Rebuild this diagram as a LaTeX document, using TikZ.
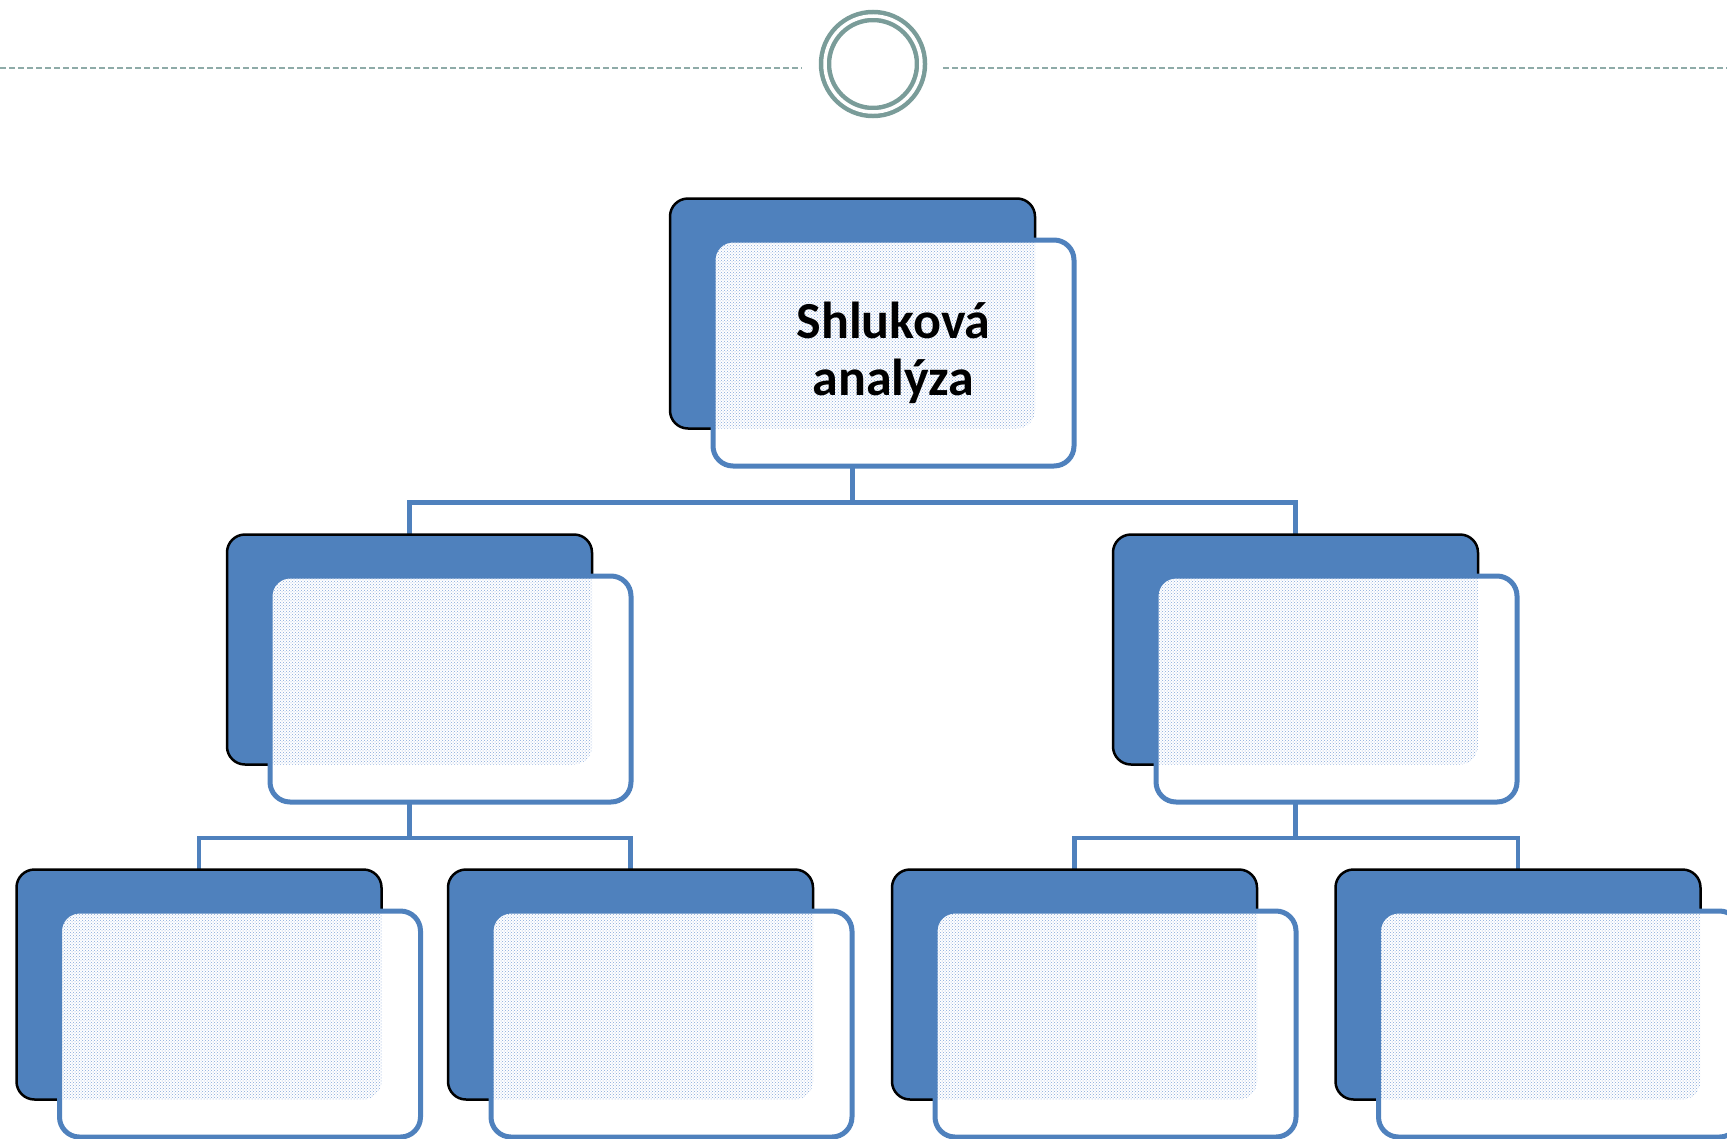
\documentclass[tikz,border=0pt]{standalone}
\usepackage{fontspec}
\setmainfont{Carlito}
\usetikzlibrary{positioning,patterns,backgrounds}

\definecolor{boxblue}{HTML}{4F81BD}
\definecolor{ringgray}{HTML}{7A9C99}
\definecolor{dotblue}{HTML}{86A8DA}

\tikzset{
	backbox/.style={rectangle, rounded corners=18pt, draw=black, line width=2.5pt, fill=boxblue,
		minimum width=365pt, minimum height=230pt, inner sep=0pt, outer sep=0pt},
	frontbox/.style={rectangle, rounded corners=20pt, draw=boxblue, line width=5pt, fill=white,
		minimum width=361pt, minimum height=226pt, inner sep=0pt, outer sep=0pt,
		xshift=41pt, yshift=-39.5pt, align=center, font=\bfseries\fontsize{52}{57}\selectfont,
		path picture={\fill[pattern=crosshatch dots, pattern color=dotblue, rounded corners=18pt]
			(#1.north west) rectangle (#1.south east);}},
	link/.style={draw=boxblue, line width=4.5pt},
	headrule/.style={draw=ringgray!85, line width=2.5pt, dash pattern=on 6pt off 3pt},
}

\begin{document}
\begin{tikzpicture}[x=1pt, y=-1pt]
	\useasboundingbox (0,0) rectangle (1727,1138);

	% header
	\node[circle, draw=ringgray, line width=4.5pt, double, double distance=3.5pt,
		minimum size=96pt, inner sep=0pt, outer sep=0pt] (ring) at (873,64) {};
	\coordinate (ruleL) at (0,68);
	\coordinate (ruleR) at (1727,68);
	\draw[headrule] (ruleL) -- ([xshift=-23pt]ring.west |- ruleL);
	\draw[headrule] ([xshift=22pt]ring.east |- ruleR) -- (ruleR);

	% back boxes
	\node[backbox] (top) at (852.5,313.5) {};
	\node[backbox] (midl) at (409.5,649.5) {};
	\node[backbox] (midr) at (1295.5,649.5) {};
	\node[backbox] (botA) at (199,984.5) {};
	\node[backbox] (botB) at (630.5,984.5) {};
	\node[backbox] (botC) at (1074.5,984.5) {};
	\node[backbox] (botD) at (1518,984.5) {};

	% front boxes
	\node[frontbox=top] (topf) at (top.center) {Shluková\\analýza};
	\node[frontbox=midl] (midlf) at (midl.center) {};
	\node[frontbox=midr] (midrf) at (midr.center) {};
	\node[frontbox=botA] (botAf) at (botA.center) {};
	\node[frontbox=botB] (botBf) at (botB.center) {};
	\node[frontbox=botC] (botCf) at (botC.center) {};
	\node[frontbox=botD] (botDf) at (botD.center) {};

	% connectors
	\begin{scope}[on background layer]
		\coordinate (topbus) at (852.5,502.5);
		\coordinate (lbus) at (409.5,838);
		\coordinate (rbus) at (1295.5,838);
		\draw[link] (top.south) -- (topbus);
		\draw[link] (midl.north) |- (topbus) -| (midr.north);
		\draw[link] (midl.south) -- (lbus);
		\draw[link] (botA.north) |- (lbus) -| (botB.north);
		\draw[link] (midr.south) -- (rbus);
		\draw[link] (botC.north) |- (rbus) -| (botD.north);
	\end{scope}
\end{tikzpicture}
\end{document}
